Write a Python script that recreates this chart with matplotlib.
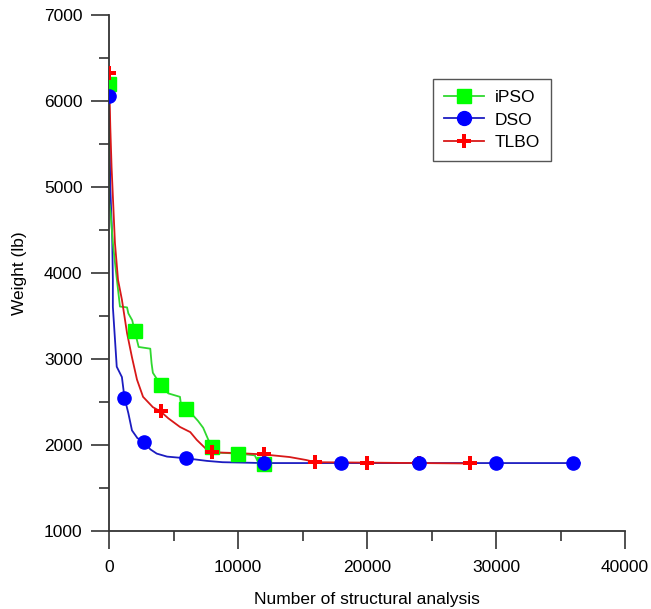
import matplotlib
matplotlib.use("Agg")
import matplotlib.pyplot as plt
from matplotlib.lines import Line2D

plt.rcParams['font.family'] = ['Liberation Sans', 'DejaVu Sans']

# iPSO
ipso_x = [0, 0, 120, 300, 500, 850, 1400, 1500, 1800, 2000, 2300, 3200, 3300, 3400, 4000, 4600,
          5500, 5600, 6000, 6600, 6900, 7300, 7700, 8000, 8400, 8600, 10000, 11300, 11500, 11800, 12000]
ipso_y = [6200, 4850, 4700, 4350, 4070, 3610, 3600, 3530, 3450, 3320, 3140, 3120, 2950, 2840, 2700, 2600,
          2560, 2450, 2420, 2330, 2280, 2200, 2060, 1980, 1930, 1910, 1900, 1880, 1820, 1790, 1780]
ipso_mx = [0, 2000, 4000, 6000, 8000, 10000, 12000]
ipso_my = [6200, 3320, 2700, 2420, 1980, 1900, 1780]

# DSO
dso_x = [0, 100, 250, 300, 300, 600, 1000, 1200, 1500, 1780, 2200, 2700, 3200, 3700, 4500, 6000,
         7600, 8800, 12000, 18000, 24000, 30000, 36500]
dso_y = [6060, 5000, 4400, 3920, 3605, 2910, 2790, 2550, 2370, 2170, 2080, 2040, 1950, 1900, 1865, 1845,
         1815, 1800, 1790, 1790, 1790, 1790, 1790]
dso_mx = [0, 1200, 2700, 6000, 12000, 18000, 24000, 30000, 36000]
dso_my = [6060, 2550, 2040, 1845, 1790, 1790, 1790, 1790, 1790]

# TLBO
tlbo_x = [0, 100, 200, 460, 700, 1000, 1400, 1780, 2170, 2640, 3400, 4000, 4600, 5500, 6300, 6800,
          7450, 8000, 10150, 12000, 14000, 15300, 16000, 20000, 24000, 28000]
tlbo_y = [6330, 5700, 5230, 4350, 3920, 3690, 3300, 3020, 2760, 2560, 2440, 2390, 2310, 2210, 2150, 2060,
          1965, 1915, 1905, 1890, 1860, 1825, 1800, 1795, 1790, 1785]
tlbo_mx = [0, 4000, 8000, 12000, 16000, 20000, 24000, 28000]
tlbo_my = [6330, 2390, 1915, 1890, 1800, 1795, 1790, 1785]

c_green_l, c_green_m = '#2fd82f', '#00ff00'
c_blue_l, c_blue_m = '#1c1cc0', '#0000ff'
c_red_l, c_red_m = '#d81818', '#ff0000'

fig = plt.figure(figsize=(6.51, 6.09), dpi=100)
ax = fig.add_axes([109/651, 1-531/609, 516/651, 516/609])

ax.plot(dso_x, dso_y, color=c_blue_l, lw=1.3, zorder=2)
ax.plot(ipso_x, ipso_y, color=c_green_l, lw=1.3, zorder=2)
ax.plot(tlbo_x, tlbo_y, color=c_red_l, lw=1.3, zorder=2)

ax.plot(ipso_mx, ipso_my, ls='none', marker='s', ms=9.5, color=c_green_m, zorder=3)
ax.plot(tlbo_mx, tlbo_my, ls='none', marker='P', ms=9.5, color=c_red_m, mew=0, zorder=4)
ax.plot(dso_mx, dso_my, ls='none', marker='o', ms=9.5, color=c_blue_m, zorder=4)

ax.set_xlim(0, 40000)
ax.set_ylim(1000, 7000)
ax.set_xticks([0, 10000, 20000, 30000, 40000])
ax.set_xticks([5000, 15000, 25000, 35000], minor=True)
ax.set_yticks([1000, 2000, 3000, 4000, 5000, 6000, 7000])
ax.set_yticks([1500, 2500, 3500, 4500, 5500, 6500], minor=True)

for s in ['top', 'right']:
    ax.spines[s].set_visible(False)
for s in ['left', 'bottom']:
    ax.spines[s].set_color('#333333')
    ax.spines[s].set_linewidth(1.3)

ax.tick_params(which='major', length=13, width=1.2, color='#333333', labelsize=12.5, pad=6)
ax.tick_params(which='minor', length=7, width=1.2, color='#333333')
ax.tick_params(axis='x', which='major', pad=8)

ax.set_xlabel('Number of structural analysis', fontsize=12.5, labelpad=12)
ax.set_ylabel('Weight (lb)', fontsize=12.5, labelpad=12)

handles = [
    Line2D([], [], color=c_green_l, lw=1.3, marker='s', ms=10, mfc=c_green_m, mec=c_green_m),
    Line2D([], [], color=c_blue_l, lw=1.3, marker='o', ms=10, mfc=c_blue_m, mec=c_blue_m),
    Line2D([], [], color=c_red_l, lw=1.3, marker='P', ms=10, mfc=c_red_m, mec=c_red_m, mew=0),
]
leg = ax.legend(handles, ['iPSO', 'DSO', 'TLBO'], loc='upper left',
                bbox_to_anchor=(0.628, 0.876), borderaxespad=0, fontsize=12.5,
                fancybox=False, framealpha=1, edgecolor='#555555', handlelength=2.3,
                labelspacing=0.4, borderpad=0.65, handletextpad=0.6)
leg.get_frame().set_linewidth(1.0)

fig.savefig('out.png', dpi=100)
